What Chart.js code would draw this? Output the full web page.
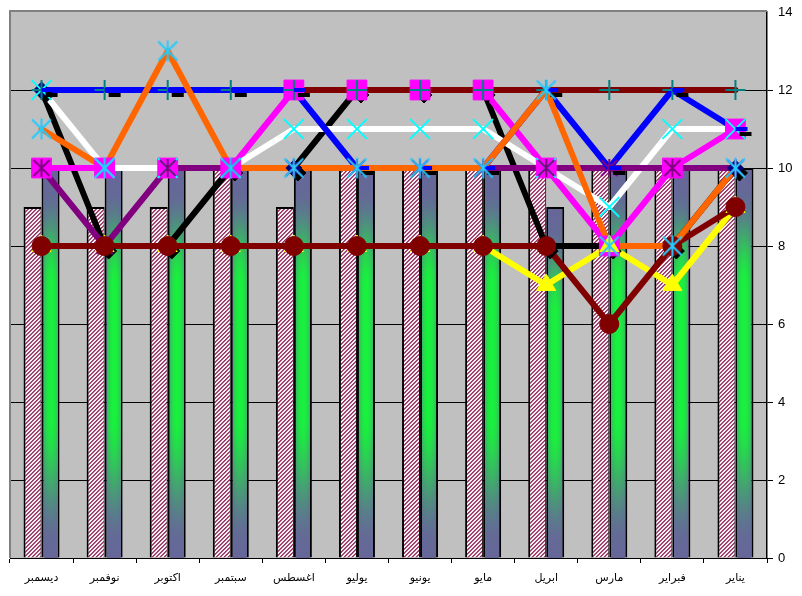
<!DOCTYPE html>
<html><head><meta charset="utf-8">
<script src="https://cdn.jsdelivr.net/npm/chart.js@4.4.1/dist/chart.umd.min.js"></script>
<style>html,body{margin:0;padding:0;background:#fff}canvas{display:block}</style>
</head><body>
<canvas id="c" width="802" height="596"></canvas>
<script>
// ---- data (January .. December; axis is reversed, so December is drawn at the left) ----
const months = ['يناير','فبراير','مارس','ابريل','مايو','يونيو','يوليو','اغسطس','سبتمبر','اكتوبر','نوفمبر','ديسمبر'];
const yTicks = [0,2,4,6,8,10,12,14];
const hatchedBars  = [10,10,10,10,10,10,10,9,10,9,9,9];
const gradientBars = [10,10,10,9,10,10,10,10,10,10,10,10];
const blackLine    = [10,8,8,8,12,12,12,10,10,8,8,12];
const magentaLine  = [11,10,8,10,12,12,12,12,10,10,10,10];
const yellowLine   = [9,7,8,7,8,8,8,8,8,8,8,8];
const whiteLine    = [11,11,9,10,11,11,11,11,10,10,10,12];
const purpleLine   = [10,10,10,10,10,10,10,10,10,10,8,10];
const maroonLine   = [9,8,6,8,8,8,8,8,8,8,8,8];
const darkRedLine  = [12,12,12,12,12,12,12,12,12,12,12,12];
const blueLine     = [11,12,10,12,10,10,10,12,12,12,12,12];
const orangeLine   = [10,8,8,12,10,10,10,10,10,13,10,11];

const canvas = document.getElementById('c');
const mainCtx = canvas.getContext('2d');

// hatch pattern
const hatch = (() => {
  const c = document.createElement('canvas'); c.width = 4; c.height = 4;
  const g = c.getContext('2d'); const img = g.createImageData(4, 4);
  const cols = [[0x99,0x33,0x66],[0xAC,0x58,0x80],[0xFF,0xFF,0xFF],[0xF2,0xE2,0xEA]];
  for (let y = 0; y < 4; y++) for (let x = 0; x < 4; x++) {
    const i = (y * 4 + x) * 4; const k = cols[(x + y) % 4];
    img.data[i] = k[0]; img.data[i+1] = k[1]; img.data[i+2] = k[2]; img.data[i+3] = 255;
  }
  g.putImageData(img, 0, 0);
  return mainCtx.createPattern(c, 'repeat');
})();

function asterisk(color, s) {
  const c = document.createElement('canvas'); c.width = s + 2; c.height = s + 2;
  const g = c.getContext('2d'); g.strokeStyle = color; g.lineWidth = 2;
  const m = (s + 2) / 2, h = s / 2 - 1;
  g.beginPath();
  g.moveTo(m - h, m - h); g.lineTo(m + h, m + h);
  g.moveTo(m + h, m - h); g.lineTo(m - h, m + h);
  g.moveTo(m, 1); g.lineTo(m, s + 1);
  g.stroke();
  return c;
}
function dash(color) {
  const c = document.createElement('canvas'); c.width = 28; c.height = 8;
  const g = c.getContext('2d'); g.fillStyle = color; g.fillRect(14, 2, 12, 4);
  return c;
}

const series = [
  { data: blackLine,   color: '#000000', shadow: true,
    pt: { pointStyle: 'rectRot', pointRadius: 8, pointBackgroundColor: '#000080', pointBorderColor: '#000080', pointBorderWidth: 1 } },
  { data: magentaLine, color: '#FF00FF',
    pt: { pointStyle: 'rect', pointRadius: 14, pointBackgroundColor: '#FF00FF', pointBorderColor: '#FF00FF', pointBorderWidth: 1 } },
  { data: yellowLine,  color: '#FFFF00',
    pt: { pointStyle: 'triangle', pointRadius: 11, pointBackgroundColor: '#FFFF00', pointBorderColor: '#FFFF00', pointBorderWidth: 1 } },
  { data: whiteLine,   color: '#FFFFFF',
    pt: { pointStyle: 'crossRot', pointRadius: 14, pointBorderColor: '#00FFFF', pointBorderWidth: 2 } },
  { data: purpleLine,  color: '#800080',
    pt: { pointStyle: asterisk('#800080', 18), pointRadius: 9 } },
  { data: maroonLine,  color: '#800000',
    pt: { pointStyle: 'circle', pointRadius: 9.5, pointBackgroundColor: '#800000', pointBorderColor: '#800000', pointBorderWidth: 1 } },
  { data: darkRedLine, color: '#800000',
    pt: { pointStyle: 'cross', pointRadius: 10, pointBorderColor: '#008080', pointBorderWidth: 2 } },
  { data: blueLine,    color: '#0000FF', shadow: true,
    pt: { pointStyle: dash('#0000FF'), pointRadius: 9 } },
  { data: orangeLine,  color: '#FF6600',
    pt: { pointStyle: asterisk('#22CCFF', 21), pointRadius: 10 } },
];

// bar slots follow the "order" value: hatched (lower order) on the left of each group
const datasets = [
  { type: 'bar', data: hatchedBars, backgroundColor: hatch, borderColor: '#000',
    borderWidth: { top: 2, left: 2, right: 1, bottom: 0 }, order: 100 },
  { type: 'bar', data: gradientBars, backgroundColor: '#666699', borderColor: '#000',
    borderWidth: { top: 2, left: 2, right: 2, bottom: 0 }, order: 101, fill2d: { l: 2, r: 2, t: 2 } },
];
series.forEach((s, i) => {
  datasets.push({ type: 'line', data: s.data, borderColor: s.color, borderWidth: 6, pointRadius: 0,
    fill: false, tension: 0, borderJoinStyle: 'round', borderCapStyle: 'round', order: 60 - i });
  datasets.push(Object.assign({ type: 'line', data: s.data, showLine: false, order: 30 - i, shadow: !!s.shadow,
    pointHoverRadius: 0 }, s.pt));
});

const framePlugin = {
  id: 'frame',
  beforeDraw(chart) {
    const { ctx, chartArea: a } = chart;
    ctx.save();
    ctx.fillStyle = '#fff'; ctx.fillRect(0, 0, chart.width, chart.height);
    ctx.fillStyle = '#C0C0C0'; ctx.fillRect(a.left, a.top, a.right - a.left, a.bottom - a.top);
    ctx.restore();
  },
  beforeDatasetsDraw(chart) {
    const { ctx, chartArea: a } = chart;
    ctx.save(); ctx.strokeStyle = '#808080'; ctx.lineWidth = 2;
    ctx.beginPath(); ctx.moveTo(a.left, a.bottom); ctx.lineTo(a.left, a.top - 1); ctx.lineTo(a.right, a.top - 1); ctx.stroke();
    ctx.restore();
  }
};

const shadowPlugin = {
  id: 'mshadow',
  beforeDatasetDraw(chart, args) {
    const ds = chart.data.datasets[args.index];
    if (!ds.shadow) return;
    const ctx = chart.ctx; ctx.save();
    ctx.shadowColor = '#000'; ctx.shadowBlur = 0; ctx.shadowOffsetX = 4; ctx.shadowOffsetY = 5;
  },
  afterDatasetDraw(chart, args) {
    const ds = chart.data.datasets[args.index];
    if (!ds.shadow) return;
    chart.ctx.restore();
  }
};

function greenness(v) {
  const st = [[0, 0], [0.05, 0.02], [0.3, 1], [0.63, 1], [0.97, 0.02], [1, 0]];
  for (let i = 1; i < st.length; i++) {
    if (v <= st[i][0]) {
      const f = (v - st[i-1][0]) / (st[i][0] - st[i-1][0]);
      const s = f * f * (3 - 2 * f);
      return st[i-1][1] + (st[i][1] - st[i-1][1]) * s;
    }
  }
  return 0;
}
const fill2dPlugin = {
  id: 'fill2d',
  afterDatasetDraw(chart, args) {
    const ds = chart.data.datasets[args.index];
    if (!ds.fill2d) return;
    const ctx = chart.ctx; const ins = ds.fill2d;
    args.meta.data.forEach(el => {
      const p = el.getProps(['x', 'y', 'base', 'width'], true);
      const l = Math.round(p.x - p.width / 2 + ins.l), r = Math.round(p.x + p.width / 2 - ins.r);
      const t = Math.round(p.y + ins.t), b = Math.round(p.base);
      const w = r - l, h = b - t; if (w <= 0 || h <= 0) return;
      const off = document.createElement('canvas'); off.width = w; off.height = h;
      const g = off.getContext('2d'); const img = g.createImageData(w, h);
      const S = [102, 102, 153], G = [24, 242, 60];
      for (let y = 0; y < h; y++) {
        const gv = greenness((y + 0.5) / h);
        for (let x = 0; x < w; x++) {
          const u = ((x + 0.5) / w) * 2 - 1;
          const tt = gv * (1 - 0.38 * u * u);
          const i = (y * w + x) * 4;
          img.data[i]   = S[0] + (G[0] - S[0]) * tt;
          img.data[i+1] = S[1] + (G[1] - S[1]) * tt;
          img.data[i+2] = S[2] + (G[2] - S[2]) * tt;
          img.data[i+3] = 255;
        }
      }
      g.putImageData(img, 0, 0);
      ctx.drawImage(off, l, t);
    });
  }
};

function noPad(s) { s.paddingLeft = 0; s.paddingRight = 0; s.paddingTop = 0; s.paddingBottom = 0; }

new Chart(canvas, {
  type: 'bar',
  data: { labels: months, datasets },
  options: {
    responsive: false, animation: false, events: [],
    devicePixelRatio: 1,
    layout: { autoPadding: false, padding: { left: 10, top: 12, right: 0, bottom: 0 } },
    datasets: { bar: { categoryPercentage: 0.571, barPercentage: 1 } },
    plugins: { legend: { display: false }, tooltip: { enabled: false } },
    scales: {
      x: {
        reverse: true, offset: true,
        grid: { offset: true, drawOnChartArea: false, drawTicks: true, tickLength: 5, color: '#000', lineWidth: 1 },
        border: { display: true, color: '#000', width: 1 },
        ticks: { autoSkip: false, maxRotation: 0, padding: 9, color: '#000', font: { family: 'DejaVu Sans', size: 11 } },
        afterFit: s => { s.height = 38; noPad(s); }
      },
      y: {
        position: 'right', min: 0, max: 14,
        afterBuildTicks: s => { s.ticks = yTicks.map(v => ({ value: v })); },
        grid: {
          color: c => (c.tick && c.tick.value === 14) ? '#808080' : '#000',
          lineWidth: c => (c.tick && c.tick.value === 14) ? 0 : 1,
          tickColor: '#000', tickLength: 6, drawTicks: true
        },
        border: { display: true, color: '#000', width: 1.5 },
        ticks: { padding: 5, color: '#000', font: { family: 'Liberation Sans, Arial', size: 13 } },
        afterFit: s => { s.width = 35; noPad(s); }
      }
    }
  },
  plugins: [framePlugin, shadowPlugin, fill2dPlugin]
});
</script>
</body></html>
